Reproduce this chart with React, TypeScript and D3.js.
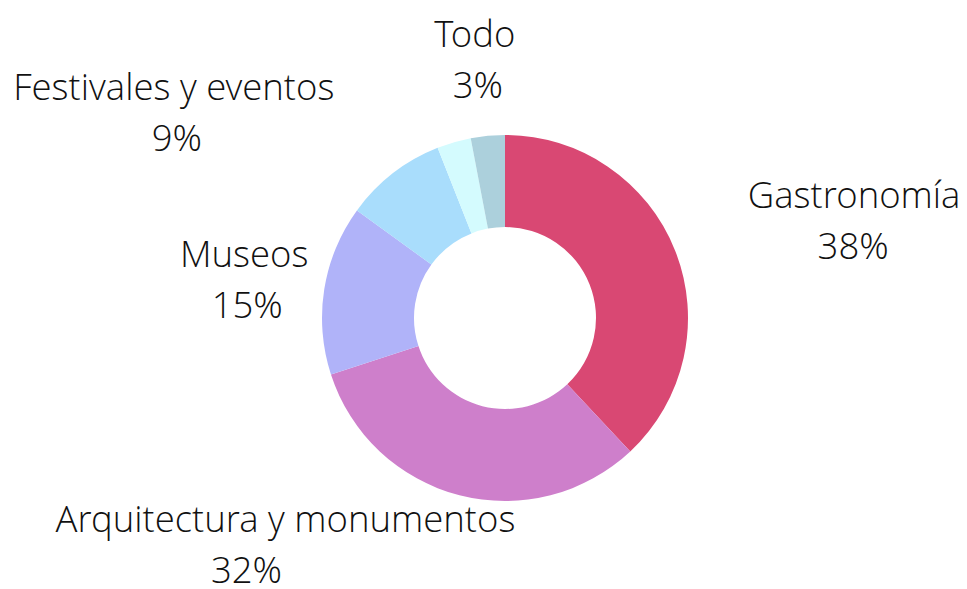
import React, { useEffect, useRef } from "react";
import * as d3 from "d3";

// slices, clockwise from 12 o'clock
const categories = ["Gastronomía", "Arquitectura y monumentos", "Museos", "Festivales y eventos", "Otros", "Todo"];
const values = [38, 32, 15, 9, 3, 3];
const colors = ["#d94873", "#ce7fcb", "#b0b3f9", "#a9ddfc", "#d4fbfe", "#acd0dc"];
const showLabel = [true, true, true, true, false, true];

// label nudges from the slice's outer mid point: [dx, dy, dx of 2nd line]
const labelNudge = [
  [179, -43, -1],
  [-174, 37, -39],
  [-80, -22, 3],
  [-219, -73, 3],
  [0, 0, 0],
  [-13, -89, 3],
];

const W = 967;
const H = 589;

export default function App() {
  const ref = useRef(null);

  useEffect(() => {
    const svg = d3.select(ref.current);
    svg.selectAll("*").remove();

    const cx = 505, cy = 318;
    const outerR = 183, innerR = 91;

    const data = categories.map((c, i) => ({ name: c, value: values[i], i }));
    const pie = d3.pie().value(d => d.value).sort(null);
    const arcs = pie(data);
    const arc = d3.arc().innerRadius(innerR).outerRadius(outerR);

    const g = svg.append("g").attr("transform", `translate(${cx},${cy})`);

    g.selectAll("path.slice")
      .data(arcs)
      .enter()
      .append("path")
      .attr("class", "slice")
      .attr("d", arc)
      .attr("fill", d => colors[d.data.i]);

    const labels = g.selectAll("g.label")
      .data(arcs.filter(d => showLabel[d.data.i]))
      .enter()
      .append("g")
      .attr("class", "label")
      .attr("transform", d => {
        const a = (d.startAngle + d.endAngle) / 2;
        const x = Math.sin(a) * outerR + labelNudge[d.data.i][0];
        const y = -Math.cos(a) * outerR + labelNudge[d.data.i][1];
        return `translate(${x},${y})`;
      })
      .style("font-family", "'Open Sans Light', 'Open Sans', sans-serif")
      .style("font-weight", 300)
      .style("font-size", "36.5px")
      .attr("fill", "#111");

    labels.append("text")
      .attr("text-anchor", "middle")
      .text(d => d.data.name);

    labels.append("text")
      .attr("text-anchor", "middle")
      .attr("x", d => labelNudge[d.data.i][2])
      .attr("y", 51)
      .text(d => `${d.data.value}%`);
  }, []);

  return (
    <svg
      ref={ref}
      width={W}
      height={H}
      style={{ position: "fixed", left: 0, top: 0, background: "#fff", display: "block" }}
    />
  );
}
